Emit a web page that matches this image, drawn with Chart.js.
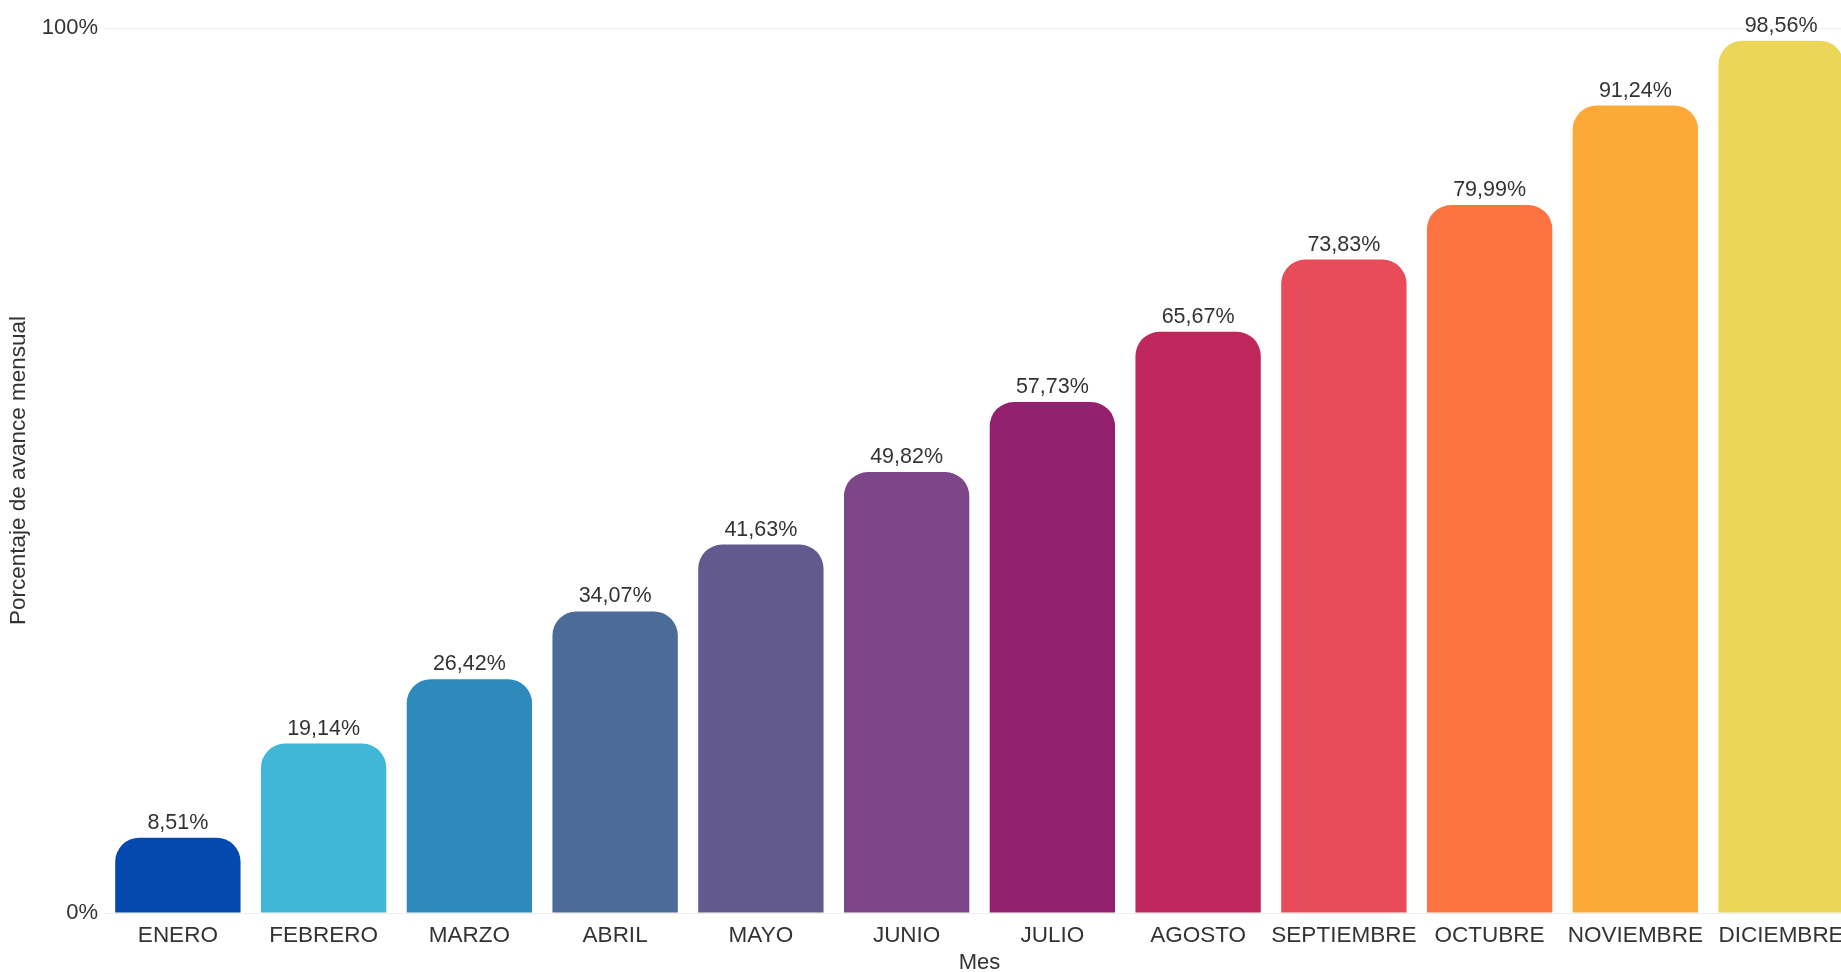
<!DOCTYPE html>
<html>
<head>
<meta charset="utf-8">
<script src="https://cdn.jsdelivr.net/npm/chart.js@4"></script>
<style>
  html, body { margin: 0; padding: 0; background: #ffffff; overflow: hidden; }
  #wrap { position: absolute; left: 0; top: 0; width: 1854px; height: 972px; }
</style>
</head>
<body>
<div id="wrap"><canvas id="c"></canvas></div>
<script>
const months = ['ENERO','FEBRERO','MARZO','ABRIL','MAYO','JUNIO','JULIO','AGOSTO','SEPTIEMBRE','OCTUBRE','NOVIEMBRE','DICIEMBRE'];
const progress = [8.51, 19.14, 26.42, 34.07, 41.63, 49.82, 57.73, 65.67, 73.83, 79.99, 91.24, 98.56];
const barColors = ['#0349AE','#41B6D6','#2D8ABB','#4B6B99','#625A8E','#7D4689','#94216D','#C0275C','#E84C58','#FD7442','#FCA937','#EBD65A'];
const yTicks = [0, 100];
const xTitle = 'Mes';
const yTitle = 'Porcentaje de avance mensual';

const FONT = 'Liberation Sans, Arial, sans-serif';
const TEXT = '#333333';

const valueLabels = {
  id: 'valueLabels',
  afterDatasetsDraw(chart) {
    const ctx = chart.ctx;
    const meta = chart.getDatasetMeta(0);
    ctx.save();
    ctx.font = '21.5px ' + FONT;
    ctx.fillStyle = TEXT;
    ctx.textAlign = 'center';
    ctx.textBaseline = 'alphabetic';
    meta.data.forEach((bar, i) => {
      const v = chart.data.datasets[0].data[i];
      ctx.fillText(v.toFixed(2).replace('.', ',') + '%', bar.x, bar.y - 9);
    });
    ctx.restore();
  }
};

new Chart(document.getElementById('c'), {
  type: 'bar',
  data: {
    labels: months,
    datasets: [{
      data: progress,
      backgroundColor: barColors,
      borderRadius: 24,
      borderSkipped: 'bottom',
      barPercentage: 0.86,
      categoryPercentage: 1.0
    }]
  },
  options: {
    responsive: true,
    maintainAspectRatio: false,
    animation: false,
    layout: { padding: { top: 28, right: 0, bottom: 0, left: 0 } },
    plugins: {
      legend: { display: false },
      tooltip: { enabled: false }
    },
    scales: {
      x: {
        grid: { display: false },
        border: { display: false },
        ticks: { color: TEXT, font: { family: FONT, size: 22.5 }, padding: 1, maxRotation: 0, autoSkip: false },
        title: { display: true, text: xTitle, color: TEXT, font: { family: FONT, size: 22, lineHeight: 0.8 }, padding: { top: 0, bottom: 0 } },
        afterFit(scale) { scale.height = 59; }
      },
      y: {
        min: 0,
        max: 100,
        afterBuildTicks(scale) { scale.ticks = yTicks.map(v => ({ value: v })); },
        grid: { color: '#eeeeee', drawTicks: false },
        border: { display: false },
        ticks: { color: TEXT, font: { family: FONT, size: 22 }, padding: 7, callback: v => v + '%' },
        title: { display: true, text: yTitle, color: TEXT, font: { family: FONT, size: 22.5, lineHeight: 1.0 }, padding: { top: 8, bottom: 0 } },
        afterFit(scale) { scale.width = 105; }
      }
    }
  },
  plugins: [valueLabels]
});
</script>
</body>
</html>
